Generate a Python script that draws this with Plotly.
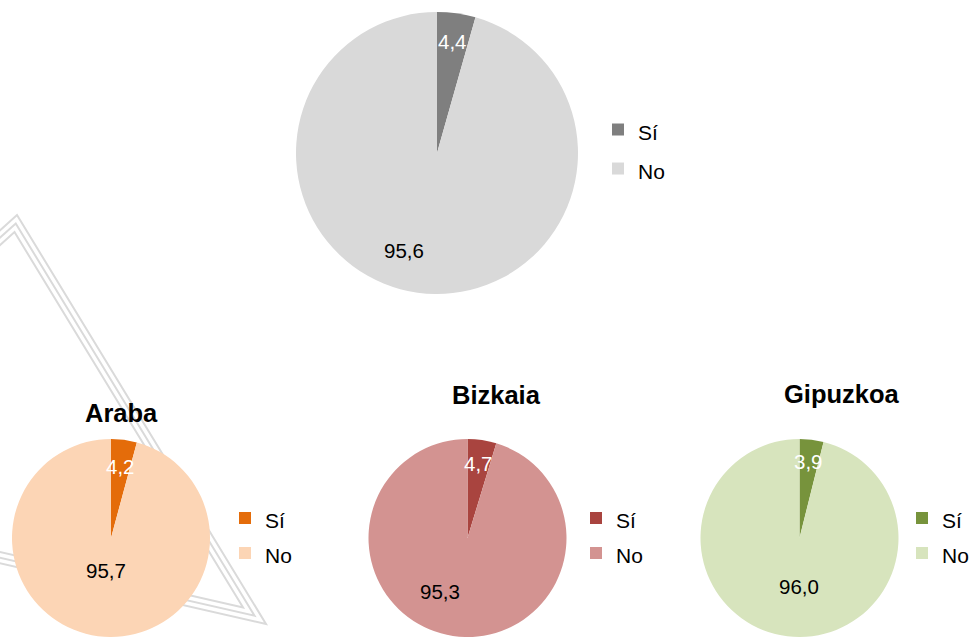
import math
import plotly.graph_objects as go

# ---------------- data ----------------
categories = ["Sí", "No"]
pie_titles = ["", "Araba", "Bizkaia", "Gipuzkoa"]
values_total = [4.4, 95.6]
values_araba = [4.2, 95.7]
values_bizkaia = [4.7, 95.3]
values_gipuzkoa = [3.9, 96.0]

# ---------------- style ----------------
W, H = 971, 637
FONT = "Liberation Sans, Arial, sans-serif"
colors = [
    ["#7F7F7F", "#D9D9D9"],
    ["#E46C0A", "#FCD5B5"],
    ["#A9443F", "#D39391"],
    ["#77933C", "#D7E4BD"],
]
# pie centre (px) and radius (px)
geo = [(437, 153, 141), (111, 538, 99), (467.5, 538, 99), (799.5, 538, 99)]
si_frac = [0.80, 0.73, 0.76, 0.78]
no_pos = [(0.73, 198.6), (0.33, 188.7), (0.61, 206.6), (0.485, 180.6)]
title_pos = [None, (122, 413), (496, 395), (842, 394)]
# legend marker centre x, legend middle y, legend font size (sets row spacing)
legend_marker = [(618, 149.5, 27.7), (245, 535.5, 24.6), (596, 535.5, 24.6), (922, 535.5, 24.6)]
legend_names = ["legend", "legend2", "legend3", "legend4"]
legend_label_size = ["21px", "21.0px", "21.00px", "21.000px"]  # distinct strings keep legends separate
LABEL_SIZE = 20.5
TITLE_SIZE = 25.5


def px(x):
    return x / W


def py(y):
    return 1 - y / H


def fmt(v):
    return f"{v:.1f}".replace(".", ",")


series = [values_total, values_araba, values_bizkaia, values_gipuzkoa]

fig = go.Figure()
annotations = []
layout_legends = {}

for i, vals in enumerate(series):
    cx, cy, r = geo[i]
    fig.add_trace(go.Pie(
        labels=[f"<span style='font-size:{legend_label_size[i]}'>{c}</span>" for c in categories],
        values=vals,
        sort=False,
        direction="clockwise",
        rotation=0,
        textinfo="none",
        hoverinfo="label+value",
        marker=dict(colors=colors[i], line=dict(width=0)),
        domain=dict(x=[px(cx - r), px(cx + r)], y=[py(cy + r), py(cy - r)]),
        legend=legend_names[i],
        showlegend=True,
    ))
    total = sum(vals)
    # Sí label at slice mid-angle
    a = math.radians(360 * vals[0] / total / 2)
    f = si_frac[i]
    annotations.append(dict(
        x=px(cx + f * r * math.sin(a)), y=py(cy - f * r * math.cos(a)),
        xref="paper", yref="paper", showarrow=False,
        xanchor="center", yanchor="middle",
        text=fmt(vals[0]), font=dict(family=FONT, size=LABEL_SIZE, color="white"),
    ))
    f, ang = no_pos[i]
    a = math.radians(ang)
    annotations.append(dict(
        x=px(cx + f * r * math.sin(a)), y=py(cy - f * r * math.cos(a)),
        xref="paper", yref="paper", showarrow=False,
        xanchor="center", yanchor="middle",
        text=fmt(vals[1]), font=dict(family=FONT, size=LABEL_SIZE, color="black"),
    ))
    if pie_titles[i]:
        tx, ty = title_pos[i]
        annotations.append(dict(
            x=px(tx), y=py(ty), xref="paper", yref="paper", showarrow=False,
            xanchor="center", yanchor="middle",
            text=f"<b>{pie_titles[i]}</b>",
            font=dict(family=FONT, size=TITLE_SIZE, color="black"),
        ))
    mx, my, fs = legend_marker[i]
    layout_legends[legend_names[i]] = dict(
        x=px(mx - 20), y=py(my), xanchor="left", yanchor="middle",
        font=dict(family=FONT, size=fs, color="black"),
        bgcolor="rgba(0,0,0,0)", borderwidth=0,
    )

# watermark triangle (three nested outlines)
A = (17, 215)
B = (266, 624)
C = (-295, 496)


def dist(p, q):
    return math.hypot(p[0] - q[0], p[1] - q[1])


a_len, b_len, c_len = dist(B, C), dist(C, A), dist(A, B)
per = a_len + b_len + c_len
Ix = (a_len * A[0] + b_len * B[0] + c_len * C[0]) / per
Iy = (a_len * A[1] + b_len * B[1] + c_len * C[1]) / per
area = abs((B[0] - A[0]) * (C[1] - A[1]) - (C[0] - A[0]) * (B[1] - A[1])) / 2
rin = 2 * area / per
shapes = []
for d in [0, 5.5, 11]:
    k = (rin - d) / rin
    pts = [(Ix + k * (P[0] - Ix), Iy + k * (P[1] - Iy)) for P in (A, B, C)]
    path = "M " + " L ".join(f"{px(x):.5f},{py(y):.5f}" for x, y in pts) + " Z"
    shapes.append(dict(type="path", path=path, xref="paper", yref="paper",
                       line=dict(color="#DADADA", width=2), layer="below"))

fig.update_layout(
    width=W, height=H,
    margin=dict(l=0, r=0, t=0, b=0, autoexpand=False),
    paper_bgcolor="white", plot_bgcolor="white",
    font=dict(family=FONT, size=18, color="black"),
    annotations=annotations,
    shapes=shapes,
    **layout_legends,
)

page_fix = (
    "var s=document.createElement('style');"
    "s.textContent='html,body{margin:0;padding:0;overflow:hidden;width:971px;height:637px;}';"
    "document.head.appendChild(s);"
)

fig.write_html(
    "out.html",
    config={"displayModeBar": False},
    post_script=page_fix,
)
